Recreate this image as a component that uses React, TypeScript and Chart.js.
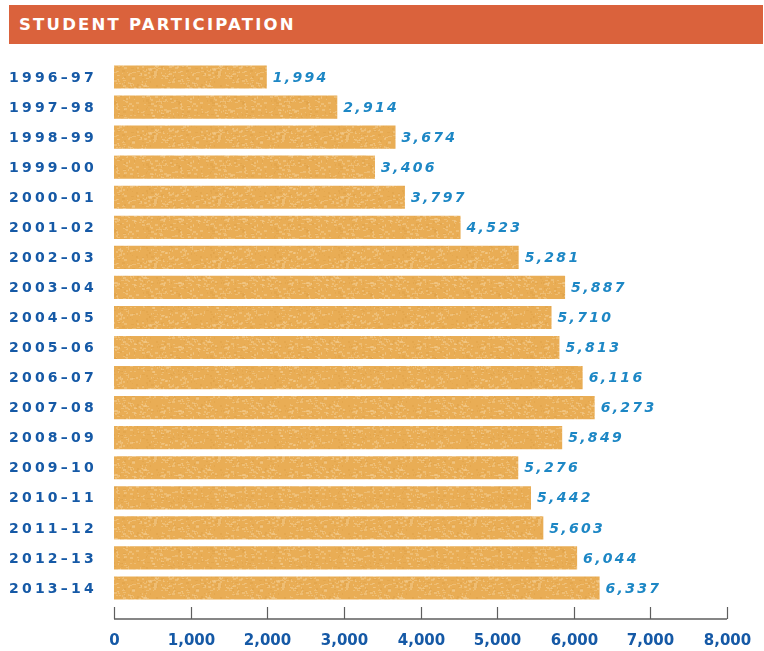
import React, { useEffect, useRef } from "react";
import { Chart, registerables } from "chart.js";

Chart.register(...registerables);

const title = "STUDENT PARTICIPATION";
const categories = [
  "1996–97", "1997–98", "1998–99", "1999–00", "2000–01", "2001–02",
  "2002–03", "2003–04", "2004–05", "2005–06", "2006–07", "2007–08",
  "2008–09", "2009–10", "2010–11", "2011–12", "2012–13", "2013–14",
];
const participants = [
  1994, 2914, 3674, 3406, 3797, 4523, 5281, 5887, 5710, 5813, 6116, 6273,
  5849, 5276, 5442, 5603, 6044, 6337,
];
const xTicks = [0, 1000, 2000, 3000, 4000, 5000, 6000, 7000, 8000];

const LABEL_BLUE = "#1559a6";
const VALUE_BLUE = "#1d87c5";

function makePattern(): CanvasPattern | string {
  const c = document.createElement("canvas");
  c.width = 64;
  c.height = 64;
  const g = c.getContext("2d");
  if (!g) return "#e9b05b";
  g.fillStyle = "#e9ad55";
  g.fillRect(0, 0, 64, 64);
  let s = 987654;
  const next = () => {
    s = (s * 1103515245 + 12345) & 0x7fffffff;
    return s / 0x7fffffff;
  };
  for (let i = 0; i < 420; i++) {
    const x = Math.floor(next() * 64);
    const y = Math.floor(next() * 64);
    const w = 1 + Math.floor(next() * 3);
    const h = 1 + Math.floor(next() * 2);
    const light = next();
    g.fillStyle = light > 0.3 ? "rgba(242,202,140,0.55)" : "rgba(222,160,70,0.45)";
    g.fillRect(x, y, w, h);
  }
  return g.createPattern(c, "repeat") || "#e9b05b";
}

const labelsPlugin = {
  id: "customLabels",
  afterDatasetsDraw(chart: any) {
    const ctx = chart.ctx as CanvasRenderingContext2D;
    const xs = chart.scales.x;
    const ys = chart.scales.y;
    const meta = chart.getDatasetMeta(0);
    ctx.save();
    // category labels
    ctx.font = "bold 14px 'DejaVu Sans'";
    (ctx as any).letterSpacing = "3.2px";
    ctx.fillStyle = LABEL_BLUE;
    ctx.textAlign = "left";
    ctx.textBaseline = "middle";
    categories.forEach((c, i) => {
      ctx.fillText(c, 9, ys.getPixelForValue(i) + 1);
    });
    // value labels
    ctx.font = "italic bold 14px 'DejaVu Sans'";
    (ctx as any).letterSpacing = "2.3px";
    ctx.fillStyle = VALUE_BLUE;
    participants.forEach((v, i) => {
      const bar = meta.data[i];
      ctx.fillText(v.toLocaleString("en-US"), bar.x + 6, bar.y + 1);
    });
    (ctx as any).letterSpacing = "0px";
    // x axis
    const axisY = 619;
    ctx.strokeStyle = "#5e5e5e";
    ctx.lineWidth = 1.5;
    ctx.beginPath();
    ctx.moveTo(xs.getPixelForValue(xTicks[0]), axisY);
    ctx.lineTo(xs.getPixelForValue(xTicks[xTicks.length - 1]), axisY);
    ctx.stroke();
    ctx.lineWidth = 1.2;
    ctx.font = "bold 15px 'DejaVu Sans'";
    ctx.fillStyle = LABEL_BLUE;
    ctx.textAlign = "center";
    xTicks.forEach((t) => {
      const px = Math.round(xs.getPixelForValue(t)) + 0.5;
      ctx.beginPath();
      ctx.moveTo(px, axisY);
      ctx.lineTo(px, axisY - 12);
      ctx.stroke();
      ctx.fillText(t.toLocaleString("en-US"), px, 641);
    });
    ctx.restore();
  },
};

export default function App() {
  const ref = useRef<HTMLCanvasElement>(null);
  useEffect(() => {
    if (!ref.current) return;
    const chart = new Chart(ref.current, {
      type: "bar",
      data: {
        labels: categories,
        datasets: [
          {
            data: participants,
            backgroundColor: makePattern() as any,
            borderWidth: 0,
            barPercentage: 0.77,
            categoryPercentage: 1,
          },
        ],
      },
      options: {
        indexAxis: "y",
        responsive: false,
        animation: false,
        layout: { padding: { left: 114, right: 37, top: 62, bottom: 48 } },
        scales: {
          x: { type: "linear", min: 0, max: 8000, display: false },
          y: { type: "category", display: false },
        },
        plugins: {
          legend: { display: false },
          tooltip: { enabled: false },
          title: { display: false },
        },
      },
      plugins: [labelsPlugin],
    });
    return () => chart.destroy();
  }, []);
  return (
    <div style={{ position: "fixed", left: 0, top: 0, width: 764, height: 651, background: "#fff" }}>
      <canvas ref={ref} width={764} height={651} style={{ position: "absolute", left: 0, top: 0 }} />
      <div
        style={{
          position: "absolute",
          left: 9,
          top: 5,
          width: 754,
          height: 39,
          background: "#da623c",
          color: "#fff",
          fontFamily: "'DejaVu Sans', sans-serif",
          fontWeight: "bold",
          fontSize: 16.5,
          letterSpacing: "2.2px",
          lineHeight: "39px",
          paddingLeft: 10,
          boxSizing: "border-box",
        }}
      >
        {title}
      </div>
    </div>
  );
}
